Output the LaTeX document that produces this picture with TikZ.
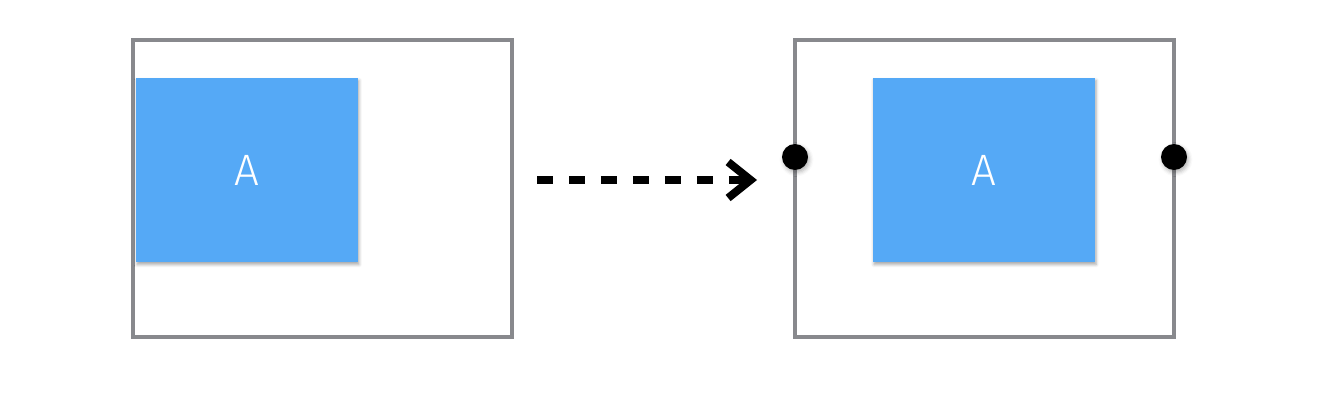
\documentclass[tikz,border=0pt]{standalone}
\usepackage{fontspec}
\newfontfamily\boxfont{Fira Sans Light}
\usepackage{tikz}
\usetikzlibrary{positioning}
\usetikzlibrary{arrows.meta}
\usetikzlibrary{shadows.blur}
\definecolor{framegray}{RGB}{136,137,141}
\definecolor{boxblue}{RGB}{85,169,246}

\begin{document}
\begin{tikzpicture}[x=0.02cm, y=-0.02cm,
		frame/.style={rectangle, draw=framegray, line width=0.07cm, inner sep=0pt, minimum width=7.58cm, minimum height=5.94cm},
		view/.style={rectangle, fill=boxblue, inner sep=0pt, minimum width=4.44cm, minimum height=3.68cm, text=white, font=\boxfont\fontsize{25}{25}\selectfont, blur shadow={shadow xshift=0.02cm, shadow yshift=-0.05cm, shadow blur radius=0.06cm, shadow opacity=35}},
		anchordot/.style={circle, fill=black, inner sep=0pt, minimum size=0.52cm, blur shadow={shadow xshift=0.03cm, shadow yshift=-0.05cm, shadow blur radius=0.08cm, shadow opacity=30}}]
				\useasboundingbox (0,0) rectangle (1334,402);
				
				\node[frame] (F1) at (322.5,188.5) {};
				\node[frame] (F2) at (984.5,188.5) {};
				
				\node[view] (A1) at (247,170) {A};
				\node[view] (A2) at (984,170) {A};
				
				\node[anchordot] (L) at (795,157) {};
				\node[anchordot] (R) at (1174,157) {};
				
				\coordinate (s) at (537,180);
				\coordinate (e) at (757,180);
				\draw[line width=0.16cm, dash pattern=on 0.32cm off 0.32cm, -{Straight Barb[length=0.45cm, width=0.72cm]}] (s) -- (e);
\end{tikzpicture}
\end{document}
